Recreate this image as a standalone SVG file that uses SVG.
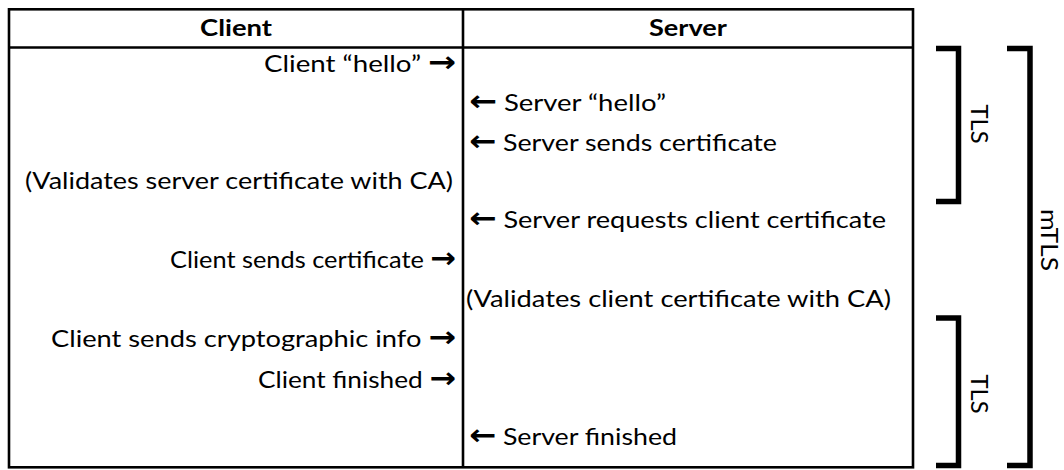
<svg xmlns="http://www.w3.org/2000/svg" width="1064" height="470" viewBox="0 0 1064 470">
  <style>
    .grid { fill: none; stroke: #000; stroke-width: 2.6; }
    .brace { fill: none; stroke: #000; stroke-width: 5.5; stroke-linejoin: miter; stroke-linecap: butt; }
    .hdr { font-family: "Lato", "Open Sans", "DejaVu Sans", sans-serif; font-weight: bold; font-size: 23px; fill: #000; text-anchor: middle; }
    .msg { font-family: "Lato", "Open Sans", "DejaVu Sans", sans-serif; font-size: 24px; fill: #000; }
    .arr { font-family: "DejaVu Sans", sans-serif; font-weight: bold; font-size: 29px; }
    .left { text-anchor: end; }
    .right { text-anchor: start; }
    .tag { font-family: "Lato", "Open Sans", "DejaVu Sans", sans-serif; font-size: 23px; fill: #000; text-anchor: middle; }
  </style>

  <!-- handshake table -->
  <g id="table">
    <rect class="grid" x="9" y="9.3" width="904" height="458"/>
    <line class="grid" x1="9" y1="47.5" x2="913" y2="47.5"/>
    <line class="grid" x1="463" y1="9.3" x2="463" y2="467.3"/>
  </g>

  <g id="header-client"><text class="hdr" x="236" y="36" textLength="72" lengthAdjust="spacingAndGlyphs">Client</text></g>
  <g id="header-server"><text class="hdr" x="688" y="36" textLength="78" lengthAdjust="spacingAndGlyphs">Server</text></g>

  <!-- client column, right aligned against the divider -->
  <g id="client-hello"><text class="msg left" x="456" y="72" textLength="192" lengthAdjust="spacingAndGlyphs">Client “hello” <tspan class="arr">→</tspan></text></g>
  <g id="client-validates"><text class="msg left" x="453" y="189" textLength="428" lengthAdjust="spacingAndGlyphs">(Validates server certificate with CA)</text></g>
  <g id="client-cert"><text class="msg left" x="456" y="268" textLength="286" lengthAdjust="spacingAndGlyphs">Client sends certificate <tspan class="arr">→</tspan></text></g>
  <g id="client-crypto"><text class="msg left" x="456" y="347" textLength="405" lengthAdjust="spacingAndGlyphs">Client sends cryptographic info <tspan class="arr">→</tspan></text></g>
  <g id="client-finished"><text class="msg left" x="456" y="388" textLength="198" lengthAdjust="spacingAndGlyphs">Client finished <tspan class="arr">→</tspan></text></g>

  <!-- server column, left aligned against the divider -->
  <g id="server-hello"><text class="msg right" x="469" y="111" textLength="197" lengthAdjust="spacingAndGlyphs"><tspan class="arr">←</tspan> Server “hello”</text></g>
  <g id="server-cert"><text class="msg right" x="469" y="151" textLength="308" lengthAdjust="spacingAndGlyphs"><tspan class="arr">←</tspan> Server sends certificate</text></g>
  <g id="server-request"><text class="msg right" x="469" y="228" textLength="417" lengthAdjust="spacingAndGlyphs"><tspan class="arr">←</tspan> Server requests client certificate</text></g>
  <g id="server-validates"><text class="msg right" x="466" y="307" textLength="425" lengthAdjust="spacingAndGlyphs">(Validates client certificate with CA)</text></g>
  <g id="server-finished"><text class="msg right" x="469" y="445" textLength="208" lengthAdjust="spacingAndGlyphs"><tspan class="arr">←</tspan> Server finished</text></g>

  <!-- phase brackets -->
  <g id="connectors">
    <path class="brace" d="M936,48.5 H958.5 V201.5 H936"/>
    <path class="brace" d="M936,318 H958.5 V465.5 H936"/>
    <path class="brace" d="M1007,48.5 H1030 V465.5 H1007"/>
  </g>

  <g id="tls-upper"><text class="tag" transform="translate(971,124) rotate(90)" textLength="39" lengthAdjust="spacingAndGlyphs">TLS</text></g>
  <g id="tls-lower"><text class="tag" transform="translate(971,394) rotate(90)" textLength="39" lengthAdjust="spacingAndGlyphs">TLS</text></g>
  <g id="mtls"><text class="tag" transform="translate(1041,240) rotate(90)" textLength="62" lengthAdjust="spacingAndGlyphs">mTLS</text></g>
</svg>
